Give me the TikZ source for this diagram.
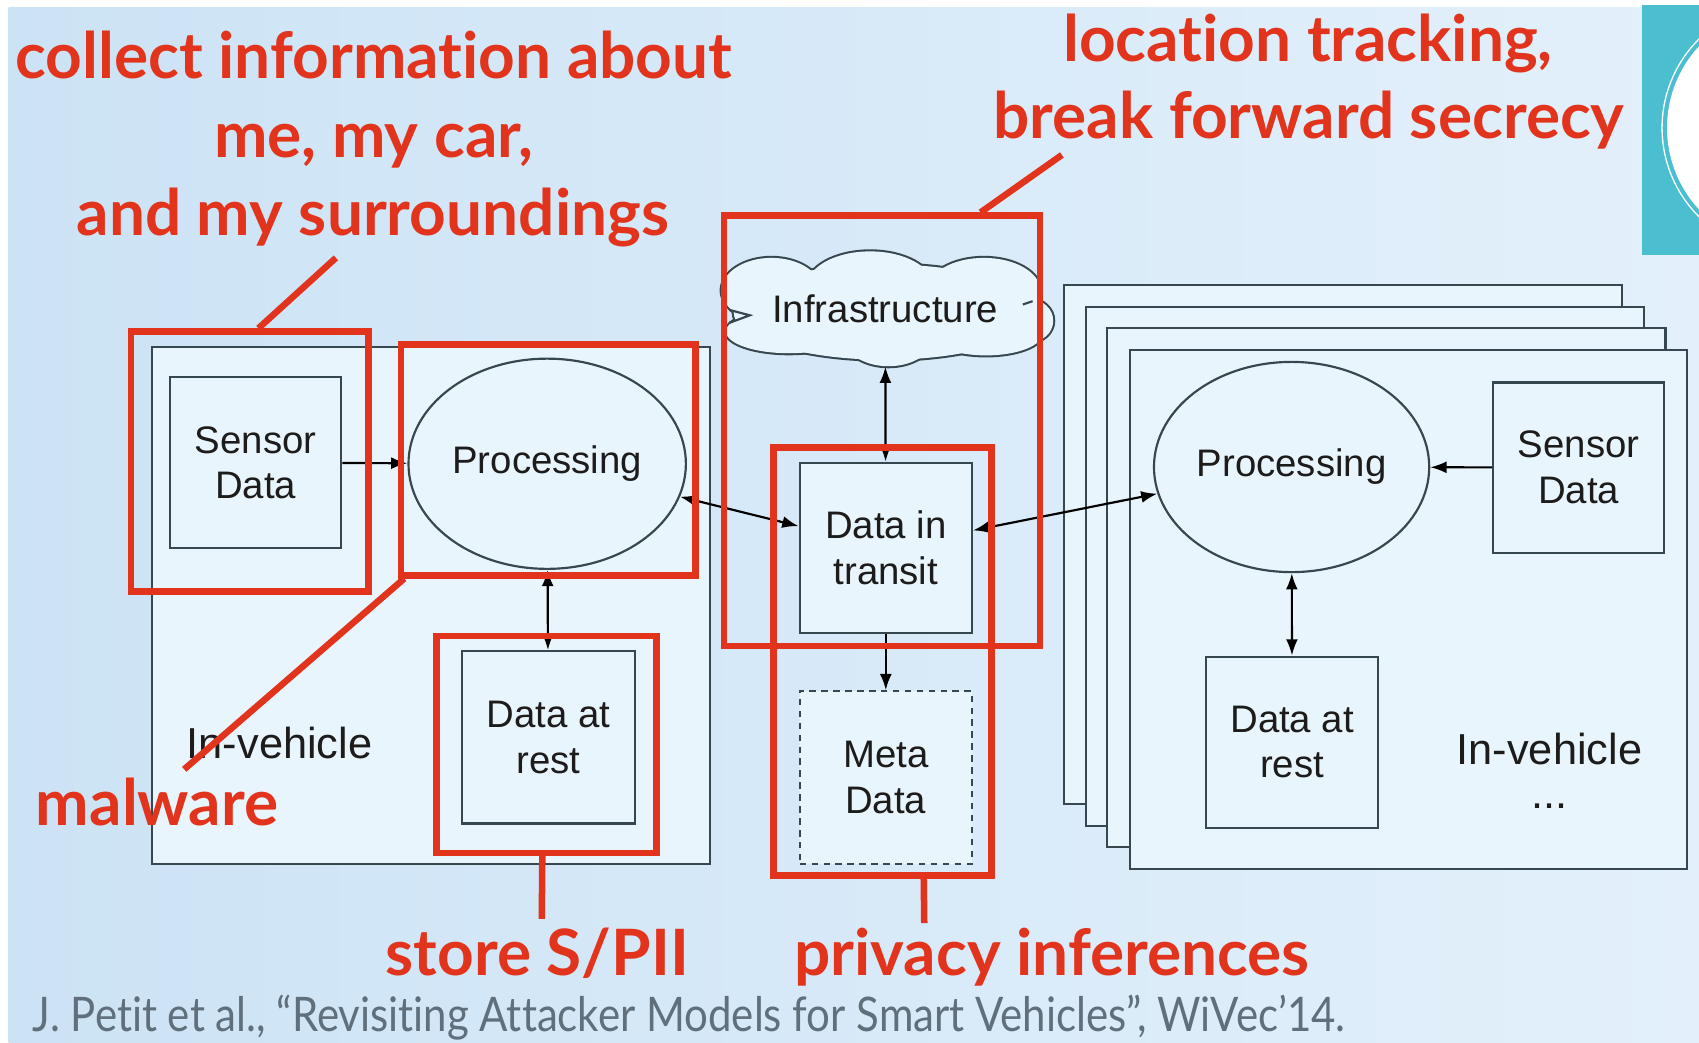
\documentclass[tikz,border=0pt]{standalone}
\usepackage{fontspec}
\setmainfont{Liberation Sans}
\newfontfamily\redfont{Lato}[Ligatures={NoCommon}]
\newfontfamily\citefont{Lato}[Ligatures={NoCommon}]
\usetikzlibrary{shapes.geometric,arrows.meta}
\definecolor{bgL}{HTML}{CCE3F5}
\definecolor{bgR}{HTML}{E3F0FB}
\definecolor{boxfill}{HTML}{E9F5FC}
\definecolor{boxline}{HTML}{37474F}
\definecolor{redc}{HTML}{E2341D}
\definecolor{tealc}{HTML}{4BBFCF}
\definecolor{citec}{HTML}{5F6F7C}
\definecolor{txtc}{HTML}{1C1C1C}
\newcommand\dgfont{\fontsize{17.7}{21}\selectfont}
\newcommand\invfont{\fontsize{20}{24}\selectfont}
\begin{document}
\begin{tikzpicture}[x=0.5pt,y=-0.5pt,
  box/.style={draw=boxline,fill=boxfill,line width=1pt,inner sep=0pt,align=center,font=\dgfont,text=txtc},
  oval/.style={ellipse,draw=boxline,fill=boxfill,line width=1pt,inner sep=0pt,font=\dgfont,text=txtc},
  redbox/.style={draw=redc,line width=3pt,inner sep=0pt},
  redline/.style={draw=redc,line width=3pt},
  redtxt/.style={text=redc,font=\redfont\bfseries\fontsize{29.5}{34}\selectfont,inner sep=0pt,anchor=base},
  conn/.style={draw=black,line width=1pt},
  tip/.style={-{Latex[length=7.5pt,width=5.5pt]}},
  both/.style={{Latex[length=7.5pt,width=5.5pt]}-{Latex[length=7.5pt,width=5.5pt]}},
]
\useasboundingbox (0,0) rectangle (1568,962);
\fill[white] (0,0) rectangle (1568,962);
\shade[left color=bgL,right color=bgR] (8,7) rectangle (1568,962);
% teal corner
\fill[tealc] (1515,5) rectangle (1568,235);
\begin{scope}
\clip (1515,5) rectangle (1568,235);
\fill[white] (1649.5,118) circle[radius=55.5pt];
\draw[white,line width=0.6pt] (1649.5,118) circle[radius=57.8pt];
\end{scope}
% left vehicle
\node[box,minimum width=257.5pt,minimum height=238.5pt] (lveh) at (397.5,558.5) {};
% right stack
\node[box,minimum width=257.5pt,minimum height=239.5pt] (r1) at (1239.5,502.5) {};
\node[box,minimum width=257.5pt,minimum height=239.5pt] (r2) at (1259.5,522.5) {};
\node[box,minimum width=257.5pt,minimum height=239.5pt] (r3) at (1279.5,542.5) {};
\node[box,minimum width=257pt,minimum height=239.5pt] (r4) at (1300,562.5) {};
% left nodes
\node[box,minimum width=79pt,minimum height=79pt] (lsensor) at (236,427) {Sensor\\Data};
\node[oval,minimum width=128pt,minimum height=97pt] (lproc) at (505,428) {Processing};
\node[box,minimum width=80pt,minimum height=79.5pt] (lrest) at (506,680.5) {Data at\\rest};
\node[font=\invfont,text=txtc,inner sep=0pt] (linv) at (258,686) {In-vehicle};
% cloud outline (union of puffs)
\foreach \cx/\cy/\rx/\ry in {712/268/23/15,803/264/29/16,908/268/26/15,728/306/29/10,820/310/21/14,910/308/26/10,950/296/11/10,817/288/70/22}
  \draw[boxline,line width=1.9pt] (\cx,\cy) ellipse[x radius=\rx pt,y radius=\ry pt];
\foreach \cx/\cy/\rx/\ry in {712/268/23/15,803/264/29/16,908/268/26/15,728/306/29/10,820/310/21/14,910/308/26/10,950/296/11/10,817/288/70/22}
  \fill[boxfill] (\cx,\cy) ellipse[x radius=\rx pt,y radius=\ry pt];
\draw[boxline,line width=1pt] (673,286) -- (692,291) -- (673,298);
\draw[boxline,line width=1pt] (944,281) -- (953,278);
\node[ellipse,inner sep=0pt,minimum width=151.5pt,minimum height=53pt,font=\dgfont,text=txtc] (cloud) at (817,285) {Infrastructure};
% middle
\node[box,minimum width=79.5pt,minimum height=78.5pt] (transit) at (817.5,505.5) {Data in\\transit};
\node[box,dash pattern=on 3pt off 2.5pt,minimum width=79.5pt,minimum height=79.5pt] (meta) at (817.5,717.5) {Meta\\Data};
% right nodes
\node[oval,minimum width=127pt,minimum height=97pt] (rproc) at (1192,431) {Processing};
\node[box,minimum width=79pt,minimum height=78.5pt] (rsensor) at (1457,431.5) {Sensor\\Data};
\node[box,minimum width=79.5pt,minimum height=79pt] (rrest) at (1192.5,685) {Data at\\rest};
\node[font=\invfont,text=txtc,inner sep=0pt] (rinv) at (1430,691) {In-vehicle};
\node[font=\invfont,text=txtc,inner sep=0pt] (rdots) at (1430,744) {...};
% connectors
\draw[conn,tip] (lsensor) -- (lproc);
\draw[conn,both] (lproc) -- (lrest);
\draw[conn,both] (lproc) -- (transit);
\draw[conn,both] (transit) -- (cloud);
\draw[conn,tip] (transit) -- (meta);
\draw[conn,both] (transit) -- (rproc);
\draw[conn,tip] (rsensor) -- (rproc);
\draw[conn,both] (rproc) -- (rrest);
% red boxes
\node[redbox,minimum width=109.5pt,minimum height=120pt] (redA) at (230.5,426) {};
\node[redbox,minimum width=136pt,minimum height=106.5pt] (redB) at (506,424.5) {};
\node[redbox,minimum width=101.5pt,minimum height=100pt] (redC) at (504.5,687) {};
\node[redbox,minimum width=146pt,minimum height=198.5pt] (redD) at (814,397.5) {};
\node[redbox,minimum width=100.5pt,minimum height=197.5pt] (redE) at (814.5,610.5) {};
% red texts
\node[redtxt] (t1) at (345,72) {collect information about};
\node[redtxt] (t2) at (345,145) {me, my car,};
\node[redtxt] (t3) at (344,217) {and my surroundings};
\node[redtxt] (t4) at (1207,57) {location tracking,};
\node[redtxt] (t5) at (1208,128) {break forward secrecy};
\node[redtxt] (t6) at (145,762) {malware};
\node[redtxt] (t7) at (496,900) {store S/PII};
\node[redtxt] (t8) at (971,900) {privacy inferences};
% red leader lines
\coordinate (cA) at (310,238);
\coordinate (cM) at (170,710);
\coordinate (cC) at (500,848);
\coordinate (cE) at (853,852);
\coordinate (cD) at (980,143);
\draw[redline] ([xshift=4pt]redA.north) -- (cA);
\draw[redline] ([xshift=3pt]redB.south west) -- (cM);
\draw[redline] ([xshift=-2pt]redC.south) -- (cC);
\draw[redline] ([xshift=19pt]redE.south) -- (cE);
\draw[redline] ([xshift=45.5pt]redD.north) -- (cD);
% citation
\node[anchor=base west,inner sep=0pt,text=citec,font=\citefont\fontsize{22}{26}\selectfont] (cite) at (30,952) {\scalebox{0.88}[1]{J. Petit et al., \textquotedblleft Revisiting Attacker Models for Smart Vehicles\textquotedblright, WiVec\textquoteright14.}};
\end{tikzpicture}
\end{document}
